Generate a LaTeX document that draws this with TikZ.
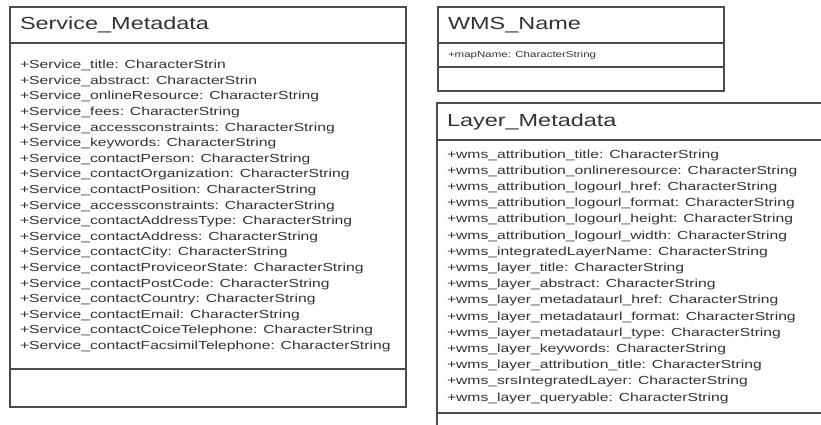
\documentclass[tikz,border=0pt]{standalone}
\usepackage{fontspec}
\newfontfamily\umlfont{Liberation Sans}[FakeStretch=1.34]
\usetikzlibrary{positioning}

% one attribute line of a class, kept on a single line
\newcommand{\attr}[2][CharacterString]{\mbox{+#2: #1}}

\tikzset{
  compart/.style={draw=black!70, line width=1.4pt, rectangle, outer sep=0pt,
    inner xsep=10pt, inner ysep=0pt, text=black!80, align=left},
  classname/.style={compart, font=\umlfont\fontsize{17.5}{20}\selectfont},
  attrs/.style={compart, font=\umlfont\fontsize{11.7}{#1}\selectfont},
}

\begin{document}
\begin{tikzpicture}[x=1pt, y=-1pt]
  \useasboundingbox (0,0) rectangle (821,425);
  \clip (0,0) rectangle (821,425);

  % Service_Metadata
  \node[classname, text width=376pt, minimum height=36pt, anchor=north west] (svc) at (10,7) {Service\_Metadata};
  \node[attrs=15.6pt, text width=376pt, minimum height=326pt, below=0pt of svc] (svcattr) {%
    \attr[CharacterStrin]{Service\_title}\\
    \attr[CharacterStrin]{Service\_abstract}\\
    \attr{Service\_onlineResource}\\
    \attr{Service\_fees}\\
    \attr{Service\_accessconstraints}\\
    \attr{Service\_keywords}\\
    \attr{Service\_contactPerson}\\
    \attr{Service\_contactOrganization}\\
    \attr{Service\_contactPosition}\\
    \attr{Service\_accessconstraints}\\
    \attr{Service\_contactAddressType}\\
    \attr{Service\_contactAddress}\\
    \attr{Service\_contactCity}\\
    \attr{Service\_contactProviceorState}\\
    \attr{Service\_contactPostCode}\\
    \attr{Service\_contactCountry}\\
    \attr{Service\_contactEmail}\\
    \attr{Service\_contactCoiceTelephone}\\
    \attr{Service\_contactFacsimilTelephone}};
  \node[compart, text width=376pt, minimum height=38pt, below=0pt of svcattr] (svcops) {};

  % WMS_Name
  \node[classname, text width=266pt, minimum height=36pt, anchor=north west] (wms) at (438,7) {WMS\_Name};
  \node[attrs=10pt, font=\umlfont\fontsize{8.6}{10}\selectfont, text width=266pt, minimum height=24pt,
    below=0pt of wms] (wmsattr) {\attr{mapName}};
  \node[compart, text width=266pt, minimum height=24pt, below=0pt of wmsattr] (wmsops) {};

  % Layer_Metadata
  \node[classname, text width=380pt, minimum height=37pt, anchor=north west] (layer) at (437,103) {Layer\_Metadata};
  \node[attrs=16.2pt, text width=380pt, minimum height=273pt, below=0pt of layer] (layerattr) {%
    \attr{wms\_attribution\_title}\\
    \attr{wms\_attribution\_onlineresource}\\
    \attr{wms\_attribution\_logourl\_href}\\
    \attr{wms\_attribution\_logourl\_format}\\
    \attr{wms\_attribution\_logourl\_height}\\
    \attr{wms\_attribution\_logourl\_width}\\
    \attr{wms\_integratedLayerName}\\
    \attr{wms\_layer\_title}\\
    \attr{wms\_layer\_abstract}\\
    \attr{wms\_layer\_metadataurl\_href}\\
    \attr{wms\_layer\_metadataurl\_format}\\
    \attr{wms\_layer\_metadataurl\_type}\\
    \attr{wms\_layer\_keywords}\\
    \attr{wms\_layer\_attribution\_title}\\
    \attr{wms\_srsIntegratedLayer}\\
    \attr{wms\_layer\_queryable}};
  \node[compart, text width=380pt, minimum height=40pt, below=0pt of layerattr] (layerops) {};
\end{tikzpicture}
\end{document}
